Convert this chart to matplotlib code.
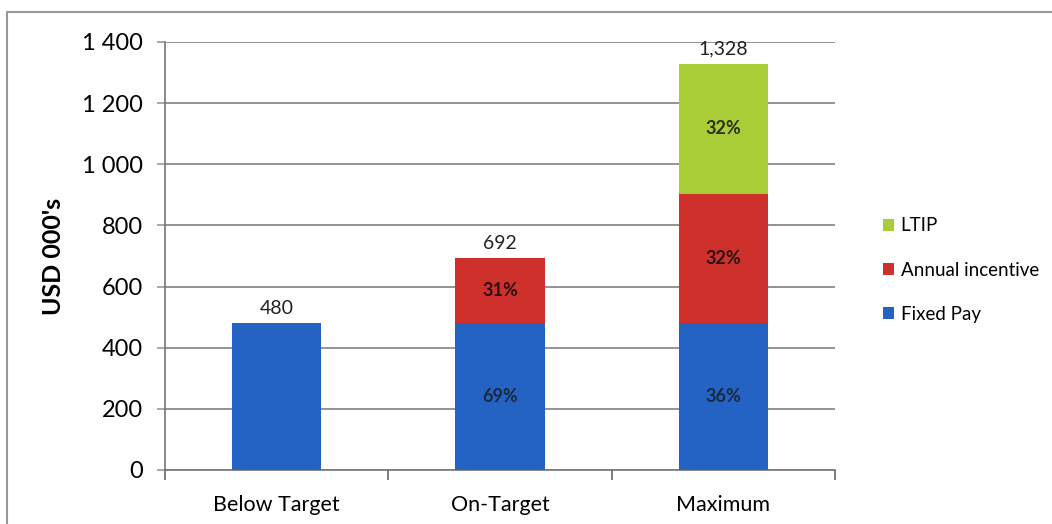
import matplotlib
matplotlib.use("Agg")
import matplotlib.pyplot as plt
from matplotlib.patches import Rectangle
from matplotlib.ticker import FuncFormatter, FixedLocator

categories = ["Below Target", "On-Target", "Maximum"]
fixed_pay = [480, 480, 480]
annual_incentive = [0, 212, 424]
ltip = [0, 0, 424]
totals = ["480", "692", "1,328"]
fixed_pct = ["", "69%", "36%"]
annual_pct = ["", "31%", "32%"]
ltip_pct = ["", "", "32%"]

blue = "#2463C4"
red = "#CE302B"
green = "#A8CD36"

plt.rcParams['font.family'] = ['Lato', 'DejaVu Sans']

fig = plt.figure(figsize=(10.52, 5.24), dpi=100)
ax = fig.add_axes([165/1052, 1 - 470/524, (835-165)/1052, (470-42)/524])

x = list(range(len(categories)))
w = 0.40
ax.bar(x, fixed_pay, w, color=blue, label="Fixed Pay", zorder=3)
ax.bar(x, annual_incentive, w, bottom=fixed_pay, color=red, label="Annual incentive", zorder=3)
bot2 = [a + b for a, b in zip(fixed_pay, annual_incentive)]
ax.bar(x, ltip, w, bottom=bot2, color=green, label="LTIP", zorder=3)

ax.set_xlim(-0.5, 2.5)
ax.set_ylim(0, 1400)
ax.set_yticks(range(0, 1401, 200))
ax.yaxis.set_major_formatter(FuncFormatter(lambda v, p: f"{int(v):,}".replace(",", " ")))
ax.grid(axis='y', color='#8a8a8a', linewidth=1.3, zorder=0)
ax.set_axisbelow(True)

ax.xaxis.set_major_locator(FixedLocator([-0.5, 0.5, 1.5, 2.5]))
ax.xaxis.set_minor_locator(FixedLocator(x))
ax.set_xticklabels([], minor=False)
ax.set_xticklabels(categories, minor=True)
ax.tick_params(axis='x', which='minor', length=0, labelsize=15.5, pad=18)
ax.tick_params(axis='x', which='major', length=7, width=1.2, color='#666666', direction='out')
ax.tick_params(axis='y', length=6, width=1.2, color='#999999', labelsize=17, pad=10)

for s in ['top', 'right']:
    ax.spines[s].set_visible(False)
ax.spines['left'].set_color('#777777')
ax.spines['bottom'].set_color('#777777')
ax.spines['left'].set_linewidth(1.2)
ax.spines['bottom'].set_linewidth(1.2)

ax.set_ylabel("USD 000's", fontsize=18, fontweight='bold', labelpad=12)

tops = [a + b + c for a, b, c in zip(fixed_pay, annual_incentive, ltip)]
for i in x:
    ax.text(i, tops[i] + 22, totals[i], ha='center', va='bottom', fontsize=14, color='#222222')
    if fixed_pct[i]:
        ax.text(i, fixed_pay[i] / 2, fixed_pct[i], ha='center', va='center',
                fontsize=13, fontweight='bold', color='#1a2a40')
    if annual_pct[i]:
        ax.text(i, fixed_pay[i] + annual_incentive[i] / 2, annual_pct[i], ha='center', va='center',
                fontsize=13, fontweight='bold', color='#2a1010')
    if ltip_pct[i]:
        ax.text(i, bot2[i] + ltip[i] / 2, ltip_pct[i], ha='center', va='center',
                fontsize=13, fontweight='bold', color='#2a3010')

handles, labels = ax.get_legend_handles_labels()
leg = fig.legend(handles[::-1], labels[::-1], loc='center left',
                 bbox_to_anchor=(866/1052, 1 - 270/524), frameon=False,
                 fontsize=13.5, handlelength=0.6, handleheight=0.6,
                 handletextpad=0.35, labelspacing=1.45)

fig.patches.append(Rectangle((7/1052, -0.1), 1.2, 1.1 - 12/524, transform=fig.transFigure,
                             fill=False, edgecolor='#999999', linewidth=1.5))

fig.savefig("out.png", dpi=100)
